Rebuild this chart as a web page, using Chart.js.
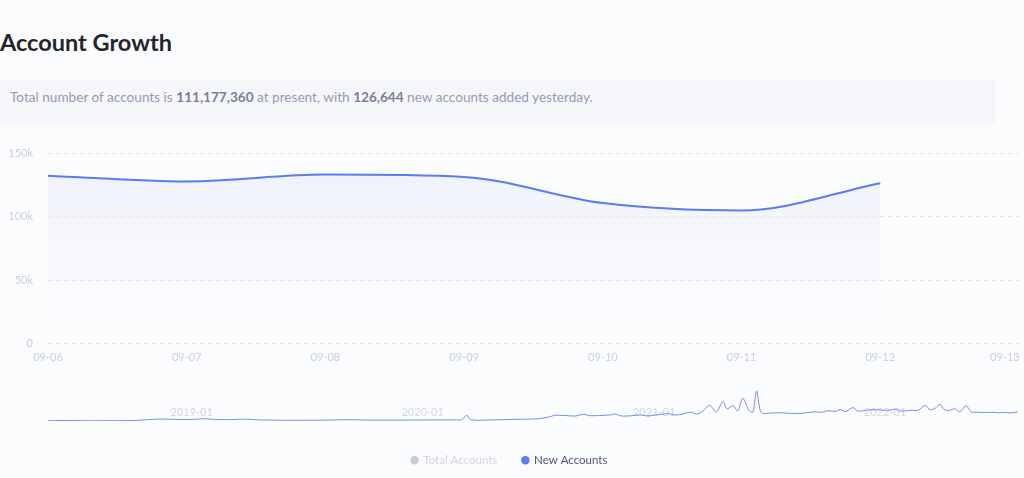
<!DOCTYPE html>
<html lang="en">

<head>
    <meta charset="UTF-8">
    <title>Account Growth</title>
    <script src="https://cdn.jsdelivr.net/npm/chart.js@4.4.0/dist/chart.umd.min.js"></script>
    <style>
        html, body { margin: 0; padding: 0; }
        body {
            width: 1024px; height: 478px; overflow: hidden; position: relative;
            background: #fbfcfe; font-family: Lato, "Open Sans", sans-serif;
        }
        h1 {
            position: absolute; left: 0; top: 28px; margin: 0;
            font-size: 23.5px; font-weight: bold; color: #23252b;
        }
        .info {
            position: absolute; left: 0; top: 80px; width: 995px; height: 43px;
            background: #f5f6fa; color: #969bb2; font-size: 13.6px; line-height: 35px;
            padding-left: 10px; box-sizing: border-box;
        }
        .info b { color: #7a8098; }
        #main { position: absolute; left: 0; top: 132px; }
        #overview { position: absolute; left: 48px; top: 390px; }
    </style>
</head>

<body>
    <h1>Account Growth</h1>
    <div class="info">Total number of accounts is <b>111,177,360</b> at present, with <b>126,644</b> new accounts added yesterday.</div>
    <canvas id="main" width="1024" height="344"></canvas>
    <canvas id="overview" width="970" height="31"></canvas>

    <script>
        // main chart: one week of daily values
        const days = ['09-06', '09-07', '09-08', '09-09', '09-10', '09-11', '09-12', '09-13']
        const newAccounts = [132600, 128000, 133400, 131500, 110900, 105000, 126644]
        const totalAccounts = [null, null, null, null, null, null, 111177360]
        const yTicks = [0, 50000, 100000, 150000]

        // overview (slider) : new accounts over the whole history
        const historyDates = [
            '2018-05-19', '2018-06-10', '2018-07-25', '2018-08-25', '2018-10-04', '2018-10-27', '2018-11-12', '2018-11-28',
            '2018-12-22', '2019-01-07', '2019-01-22', '2019-02-07', '2019-03-03', '2019-03-27', '2019-04-11', '2019-05-05',
            '2019-06-06', '2019-07-23', '2019-09-08', '2019-10-10', '2019-11-26', '2020-01-13', '2020-02-21', '2020-03-03',
            '2020-03-11', '2020-03-17', '2020-04-16', '2020-06-03', '2020-06-19', '2020-07-05', '2020-07-20', '2020-07-28',
            '2020-08-13', '2020-08-29', '2020-09-11', '2020-09-22', '2020-10-07', '2020-10-23', '2020-10-31', '2020-11-11',
            '2020-11-27', '2020-12-10', '2020-12-22', '2021-01-02', '2021-01-13', '2021-01-23', '2021-02-03', '2021-02-14',
            '2021-02-27', '2021-03-10', '2021-03-21', '2021-03-30', '2021-04-09', '2021-04-20', '2021-04-26', '2021-05-06',
            '2021-05-13', '2021-05-21', '2021-05-31', '2021-06-06', '2021-06-12', '2021-06-19', '2021-07-03', '2021-07-19',
            '2021-08-04', '2021-08-19', '2021-09-01', '2021-09-12', '2021-09-23', '2021-10-03', '2021-10-14', '2021-10-22',
            '2021-10-31', '2021-11-11', '2021-11-19', '2021-11-30', '2021-12-11', '2021-12-24', '2022-01-05', '2022-01-17',
            '2022-01-24', '2022-02-01', '2022-02-12', '2022-02-22', '2022-03-05', '2022-03-13', '2022-03-21', '2022-03-29',
            '2022-04-04', '2022-04-13', '2022-04-21', '2022-04-29', '2022-05-09', '2022-05-17', '2022-05-28', '2022-06-08',
            '2022-06-19', '2022-07-01', '2022-07-09', '2022-07-17', '2022-07-30'
        ]
        const historyNew = [
            3000, 7500, 3000, 4500, 7500, 22000, 28000, 25000,
            20000, 25000, 33000, 22000, 20000, 27000, 18000, 13000,
            10000, 12000, 18000, 13000, 13000, 15000, 16000, 18000,
            82000, 18000, 15000, 25000, 27000, 35000, 60000, 82000,
            78000, 70000, 95000, 75000, 78000, 85000, 100000, 70000,
            75000, 87000, 70000, 85000, 95000, 105000, 85000, 95000,
            125000, 100000, 158000, 225000, 128000, 278000, 172000, 218000,
            142000, 322000, 150000, 128000, 428000, 123000, 112000, 117000,
            108000, 108000, 120000, 130000, 123000, 147000, 135000, 162000,
            135000, 190000, 142000, 150000, 160000, 157000, 150000, 168000,
            145000, 142000, 153000, 150000, 220000, 160000, 180000, 235000,
            165000, 150000, 175000, 130000, 215000, 130000, 123000, 120000,
            123000, 117000, 123000, 115000, 127000
        ]
        const yearTicks = ['2019-01', '2020-01', '2021-01', '2022-01']

        const blue = '#5b7cf0'
        const axisText = '#c9cde0'
        const gridColor = '#e3e6f0'

        let dayNum = s => Date.UTC(+s.slice(0, 4), +s.slice(5, 7) - 1, +(s.slice(8, 10) || 1)) / 86400000

        const mainCtx = document.getElementById('main').getContext('2d')
        const mainChart = new Chart(mainCtx, {
            type: 'line',
            data: {
                labels: days,
                datasets: [{
                    label: 'Total Accounts',
                    data: totalAccounts,
                    hidden: true,
                    borderColor: '#c8cbd9',
                    backgroundColor: '#c8cbd9',
                    pointRadius: 0
                }, {
                    label: 'New Accounts',
                    data: newAccounts,
                    borderColor: blue,
                    backgroundColor: context => {
                        const { ctx, chartArea } = context.chart
                        if (!chartArea) return 'rgba(230,233,248,0.4)'
                        const g = ctx.createLinearGradient(0, chartArea.top, 0, chartArea.bottom)
                        g.addColorStop(0, 'rgba(226,230,248,0.6)')
                        g.addColorStop(1, 'rgba(250,251,254,0)')
                        return g
                    },
                    fill: 'origin',
                    borderWidth: 2,
                    cubicInterpolationMode: 'monotone',
                    pointRadius: 0,
                    pointStyle: 'circle'
                }]
            },
            options: {
                responsive: false,
                animation: false,
                devicePixelRatio: 1,
                layout: { autoPadding: false, padding: { top: 4, right: 5, left: 0, bottom: 0 } },
                plugins: {
                    tooltip: { enabled: false },
                    legend: {
                        position: 'bottom',
                        onClick: null,
                        labels: {
                            usePointStyle: true,
                            boxWidth: 6,
                            boxHeight: 6,
                            padding: 25,
                            font: { family: 'Lato', size: 11.5 },
                            generateLabels: chart => chart.data.datasets.map((ds, i) => {
                                const off = !chart.isDatasetVisible(i)
                                return {
                                    text: ds.label,
                                    datasetIndex: i,
                                    pointStyle: 'circle',
                                    fillStyle: off ? '#c8cbd9' : blue,
                                    strokeStyle: off ? '#c8cbd9' : blue,
                                    lineWidth: 0,
                                    fontColor: off ? '#d2d5e2' : '#50556a',
                                    hidden: false
                                }
                            })
                        }
                    }
                },
                scales: {
                    x: {
                        grid: { display: false, drawTicks: false },
                        border: { display: false },
                        afterFit: scale => {
                            scale.height = 86
                            scale.paddingLeft = 0
                            scale.paddingRight = 0
                        },
                        ticks: {
                            color: axisText,
                            padding: 7,
                            maxRotation: 0,
                            autoSkip: false,
                            font: { family: 'Lato', size: 11 },
                            // last label is pulled back inside the canvas
                            callback: (v, i) => i === days.length - 1 ? days[i] + '\u00a0'.repeat(10) : days[i]
                        }
                    },
                    y: {
                        min: 0,
                        max: 150000,
                        afterFit: scale => { scale.width = 48 },
                        afterBuildTicks: scale => { scale.ticks = yTicks.map(v => ({ value: v })) },
                        border: { display: false, dash: [5, 3] },
                        grid: { color: gridColor, drawTicks: false },
                        ticks: {
                            color: axisText,
                            padding: 15,
                            font: { family: 'Lato', size: 11 },
                            callback: v => v === 0 ? '0' : (v / 1000) + 'k'
                        }
                    }
                }
            }
        })

        // year labels drawn inside the slider, under the line
        const yearLabels = {
            id: 'yearLabels',
            beforeDatasetsDraw: chart => {
                const ctx = chart.ctx
                const x = chart.scales.x
                ctx.save()
                ctx.font = '11px Lato'
                ctx.fillStyle = '#d3d6e4'
                ctx.textAlign = 'center'
                ctx.textBaseline = 'middle'
                yearTicks.forEach(t => {
                    ctx.fillText(t, x.getPixelForValue(dayNum(t)), chart.chartArea.bottom - 9)
                })
                ctx.restore()
            }
        }

        const ovCtx = document.getElementById('overview').getContext('2d')
        const overview = new Chart(ovCtx, {
            type: 'line',
            data: {
                datasets: [{
                    data: historyDates.map((d, i) => ({ x: dayNum(d), y: historyNew[i] })),
                    borderColor: '#6f8ff3',
                    borderWidth: 1,
                    pointRadius: 0,
                    tension: 0.3
                }]
            },
            options: {
                responsive: false,
                animation: false,
                devicePixelRatio: 1,
                layout: { padding: 0 },
                plugins: { legend: { display: false }, tooltip: { enabled: false } },
                scales: {
                    x: { type: 'linear', display: false, min: dayNum(historyDates[0]), max: dayNum(historyDates[historyDates.length - 1]) },
                    y: { display: false, min: 0, max: 440000 }
                }
            },
            plugins: [yearLabels]
        })
    </script>
</body>

</html>
